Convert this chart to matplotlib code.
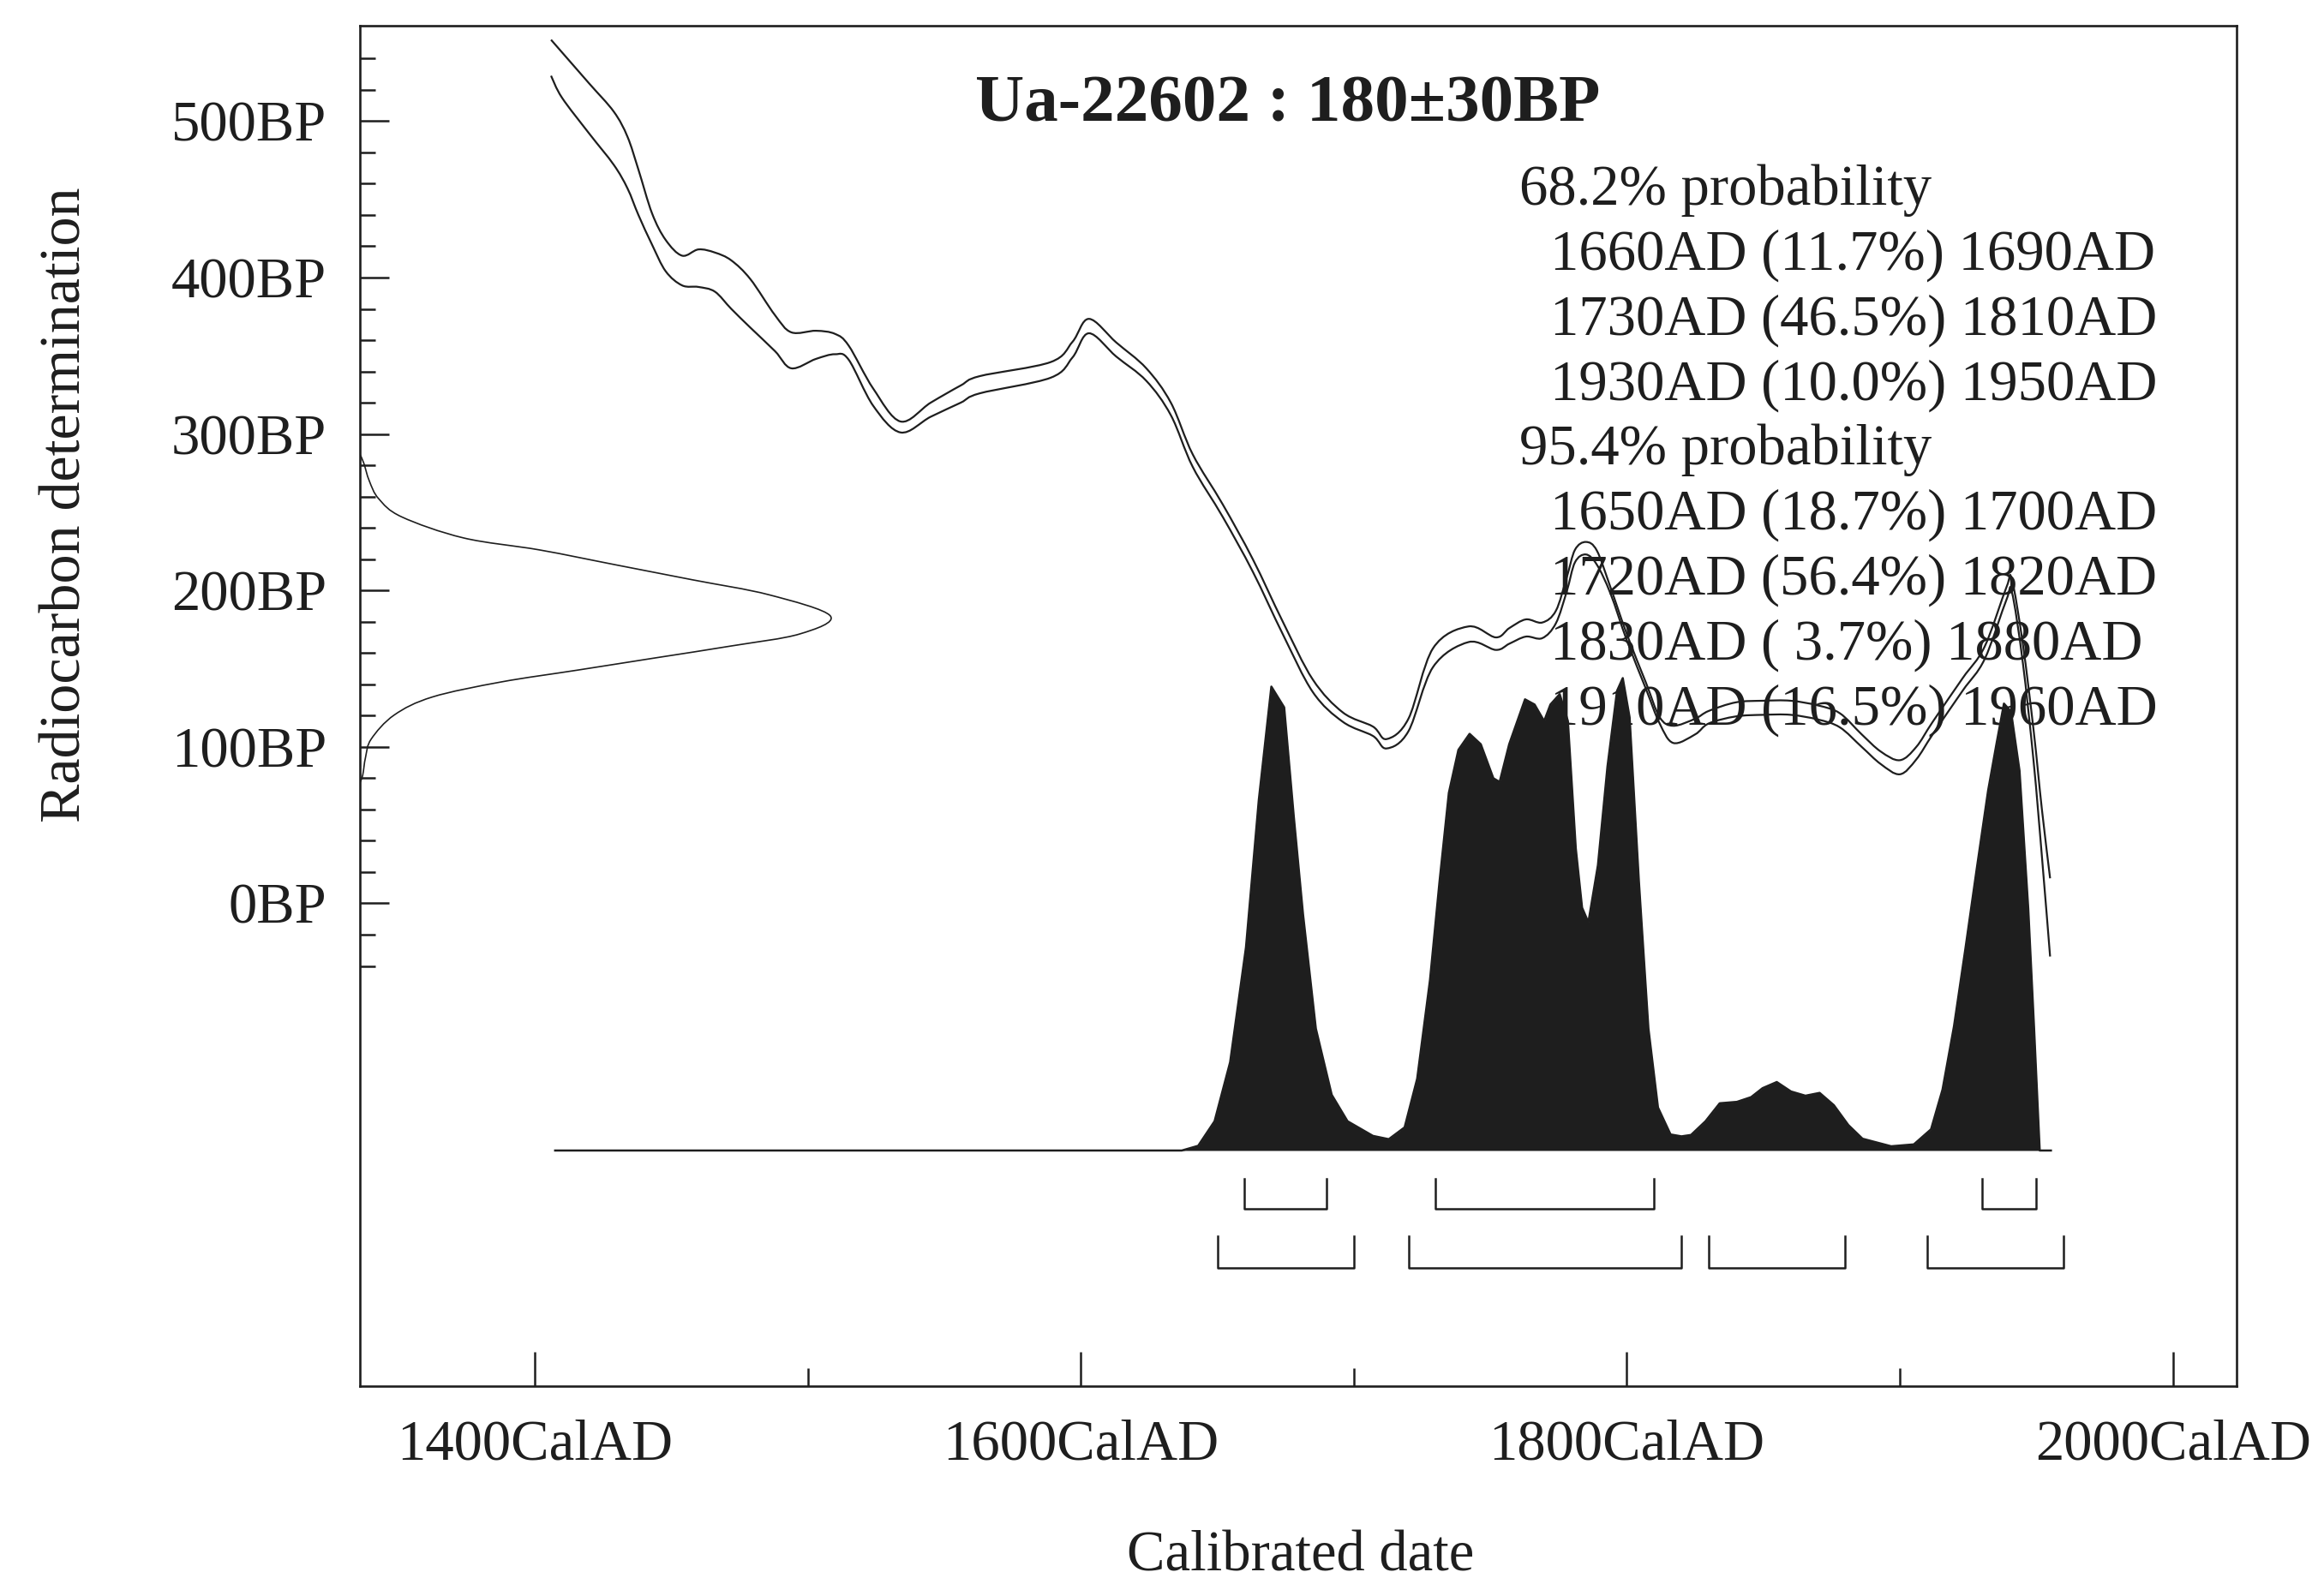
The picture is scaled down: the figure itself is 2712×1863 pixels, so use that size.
import numpy as np
import matplotlib
matplotlib.use("Agg")
import matplotlib.pyplot as plt
from matplotlib.path import Path
from matplotlib.patches import PathPatch

plt.rcParams['font.family'] = ['Liberation Serif', 'DejaVu Serif']

# ---------------- data ----------------
SAMPLE = "Ua-22602"
BP_MEAN = 180
BP_SD = 30

X_MAJOR = [1400, 1600, 1800, 2000]
X_MINOR = [1500, 1700, 1900]
X_LABELS = [f"{v}CalAD" for v in X_MAJOR]
Y_MAJOR = [0, 100, 200, 300, 400, 500]
Y_LABELS = [f"{v}BP" for v in Y_MAJOR]
Y_MINOR = [v for v in range(-40, 541, 20) if v % 100 != 0]

# calibration curve: calendar year, mean BP, half-width (1 sigma)
CAL_YEAR = [1406, 1410, 1420, 1429, 1434, 1438, 1443, 1448, 1454, 1460,
            1466, 1472, 1479, 1488, 1494, 1503, 1510, 1515, 1524, 1534,
            1545, 1556, 1563, 1589, 1597, 1603, 1613, 1624, 1633, 1641,
            1652, 1663, 1674, 1685, 1696, 1707, 1712, 1720, 1729, 1742,
            1752, 1757, 1763, 1769, 1774, 1778, 1781, 1785, 1789, 1794,
            1800, 1807, 1812, 1817, 1825, 1830, 1840, 1850, 1860, 1870,
            1878, 1886, 1893, 1900, 1906, 1912, 1923, 1931, 1939, 1941,
            1945, 1949, 1952, 1955]
CAL_BP = [540.5, 529.5, 508, 489, 473.5, 454.5, 431, 414, 404.5, 406,
          403.5, 395.5, 383.5, 364.5, 353.5, 357, 357.5, 352, 323.5, 304.5,
          315.5, 325.5, 331.5, 341, 354, 369, 354, 338, 316, 283,
          251, 216, 176, 139, 119, 110, 102, 114, 157, 172,
          166, 171, 176, 174.5, 183, 204, 222, 227, 221, 200,
          170, 139, 117, 108, 113, 119, 124, 125, 125, 122,
          117, 104, 93, 87, 96, 112, 140, 160, 198, 203,
          160, 100, 45, -9]
CAL_ERR = [11.5, 14.5, 16, 17, 16.5, 14.5, 10, 10, 9.5, 12,
           12.5, 15.5, 15.5, 11.5, 11.5, 9, 6.5, 4.5, 5.5, 3.5,
           4.5, 5.5, 5.5, 5, 5, 4.6, 4.5, 4, 4, 4,
           4, 4, 4, 4, 3, 3, 3, 4, 6, 5,
           4, 5, 5.5, 5, 4, 4.5, 4, 4, 4.5, 2,
           2, 2, 2, 5.5, 5, 4, 4.5, 4.5, 4.5, 4.5,
           4.5, 4, 4, 4.5, 4, 4, 4, 4, 4, 4,
           6, 10, 15, 25]

# radiocarbon measurement curve on the y axis (relative height)
GAUSS_BP = [287, 281.6, 270, 258.6, 247, 233.6, 225.9, 216.3, 206.8, 197.2,
            183.7, 172.2, 164.5, 156.8, 149.1, 141.5, 131.9, 120.4, 105, 93.4, 82, 77]
GAUSS_REL = [0, 0.008, 0.02, 0.04, 0.089, 0.22, 0.382, 0.545, 0.707, 0.87,
             1.0, 0.935, 0.789, 0.626, 0.463, 0.30, 0.154, 0.073, 0.024, 0.012, 0.006, 0]

# calibrated probability distribution (relative)
DIST_YEAR = [1407.5, 1637, 1643, 1649, 1654.7, 1660.5, 1665.2, 1669.8, 1674.5, 1678,
             1681.4, 1686.1, 1691.9, 1697.7, 1707, 1712.8, 1718.6, 1723.2, 1727.9, 1731.4,
             1734.8, 1738.3, 1742.4, 1746.5, 1751.1, 1753.4, 1756.9, 1762.7, 1766.2, 1769.7,
             1772, 1775.4, 1778.4, 1781.3, 1783.6, 1785.9, 1789.4, 1792.9, 1796.4, 1798.5,
             1801, 1804.4, 1807.9, 1811.4, 1816, 1820, 1823.5, 1828.8, 1834, 1840.3,
             1845.5, 1849.7, 1854.9, 1860.1, 1865.4, 1870.6, 1875.8, 1881.1, 1886.3, 1896.8,
             1905.1, 1911.4, 1915.6, 1919.8, 1924, 1928.1, 1932.3, 1935.4, 1938.1, 1940.7,
             1943.8, 1947, 1949.1, 1951.2, 1955.3]
DIST_PROB = [0, 0, 0.01, 0.062, 0.187, 0.43, 0.742, 0.982, 0.938, 0.708,
             0.50, 0.258, 0.118, 0.062, 0.031, 0.024, 0.049, 0.152, 0.361, 0.57,
             0.757, 0.848, 0.882, 0.86, 0.788, 0.78, 0.86, 0.955, 0.944, 0.909,
             0.944, 0.966, 0.909, 0.639, 0.514, 0.483, 0.604, 0.813, 0.973, 1.0,
             0.917, 0.57, 0.258, 0.091, 0.034, 0.03, 0.033, 0.062, 0.10, 0.103,
             0.113, 0.132, 0.145, 0.125, 0.116, 0.122, 0.096, 0.054, 0.025, 0.009,
             0.013, 0.045, 0.129, 0.263, 0.428, 0.595, 0.762, 0.862, 0.946, 0.929,
             0.804, 0.512, 0.263, 0.0, 0]

R68_START = [1660, 1730, 1930]
R68_END = [1690, 1810, 1950]
R68_PCT = [11.7, 46.5, 10.0]
R95_START = [1650, 1720, 1830, 1910]
R95_END = [1700, 1820, 1880, 1960]
R95_PCT = [18.7, 56.4, 3.7, 16.5]

# ---------------- style / layout ----------------
INK = '#1e1e1e'
XLIM = (1336, 2023.3)
YLIM = (-308.6, 561)
GAUSS_W = 172.3        # width of the measurement curve in years
DIST_BASE = -158       # baseline of distribution (BP units)
DIST_H = 302           # peak height of distribution (BP units)
B68 = (-176, -195)
B95 = (-213, -233)


def smooth_path(x, y):
    """Catmull-Rom through the given points, drawn as cubic Bezier segments."""
    p = np.column_stack([np.asarray(x, float), np.asarray(y, float)])
    n = len(p)
    verts = [p[0]]
    codes = [Path.MOVETO]
    for i in range(n - 1):
        p0 = p[i - 1] if i > 0 else p[i]
        p1, p2 = p[i], p[i + 1]
        p3 = p[i + 2] if i + 2 < n else p[i + 1]
        verts += [p1 + (p2 - p0) / 6.0, p2 - (p3 - p1) / 6.0, p2]
        codes += [Path.CURVE4] * 3
    return Path(verts, codes)


fig = plt.figure(figsize=(27.12, 18.63), dpi=100)
ax = fig.add_axes([420 / 2712, 1 - 1618 / 1863, 2190 / 2712, 1588 / 1863])
ax.set_xlim(*XLIM)
ax.set_ylim(*YLIM)

# calibration curve (two lines)
cy = np.array(CAL_YEAR, float)
cb = np.array(CAL_BP, float)
ce = np.array(CAL_ERR, float)
for yy in (cb + ce, cb - ce):
    ax.add_patch(PathPatch(smooth_path(cy, yy), fill=False, edgecolor=INK, lw=1.6,
                           joinstyle='round'))

# measurement curve on y axis
ax.add_patch(PathPatch(smooth_path(XLIM[0] + np.array(GAUSS_REL) * GAUSS_W, GAUSS_BP),
                       fill=False, edgecolor=INK, lw=1.2))

# calibrated distribution
dy = np.array(DIST_YEAR, float)
dp = np.array(DIST_PROB, float)
ax.fill_between(dy, DIST_BASE, DIST_BASE + dp * DIST_H, color=INK, lw=0)
ax.plot(dy, DIST_BASE + dp * DIST_H, color=INK, lw=1.8)

# range brackets
for starts, ends, (top, bot) in ((R68_START, R68_END, B68), (R95_START, R95_END, B95)):
    for s, e in zip(starts, ends):
        ax.plot([s, s, e, e], [top, bot, bot, top], color=INK, lw=1.8)

# ticks
ax.set_xticks(X_MAJOR)
ax.set_xticklabels(X_LABELS)
ax.set_xticks(X_MINOR, minor=True)
ax.set_yticks(Y_MAJOR)
ax.set_yticklabels(Y_LABELS)
ax.set_yticks(Y_MINOR, minor=True)
ax.tick_params(axis='both', which='both', direction='in', top=False, right=False,
               width=1.8, color=INK, labelsize=48, labelcolor=INK, pad=28)
ax.tick_params(axis='x', which='major', length=29)
ax.tick_params(axis='x', which='minor', length=15)
ax.tick_params(axis='y', which='major', length=24.5)
ax.tick_params(axis='y', which='minor', length=13)
for sp in ax.spines.values():
    sp.set_linewidth(1.9)
    sp.set_color(INK)

# axis labels
fig.text(94 / 2712, 1 - 589 / 1863, "Radiocarbon determination", rotation=90,
         rotation_mode='anchor', ha='center', va='baseline', fontsize=49, color=INK)
fig.text(1518 / 2712, 1 - 1834 / 1863, "Calibrated date", ha='center',
         va='baseline', fontsize=48, color=INK)

# title
ax.text(0.4945, 0.9301, f"{SAMPLE} : {BP_MEAN}\u00b1{BP_SD}BP", transform=ax.transAxes,
        ha='center', va='baseline', fontsize=57, fontweight='bold', color=INK)

# probability text block
lines = [("68.2% probability", 0)]
for s, p, e in zip(R68_START, R68_PCT, R68_END):
    lines.append((f"{s}AD ({p:4.1f}%) {e}AD", 1))
lines.append(("95.4% probability", 0))
for s, p, e in zip(R95_START, R95_PCT, R95_END):
    lines.append((f"{s}AD ({p:4.1f}%) {e}AD", 1))
y0 = 0.8687
dy_line = 0.04776
for i, (txt, ind) in enumerate(lines):
    ax.text(0.6342 if ind else 0.6177, y0 - i * dy_line, txt, transform=ax.transAxes,
            ha='left', va='baseline', fontsize=48, color=INK)

fig.savefig("out.png", dpi=100)
